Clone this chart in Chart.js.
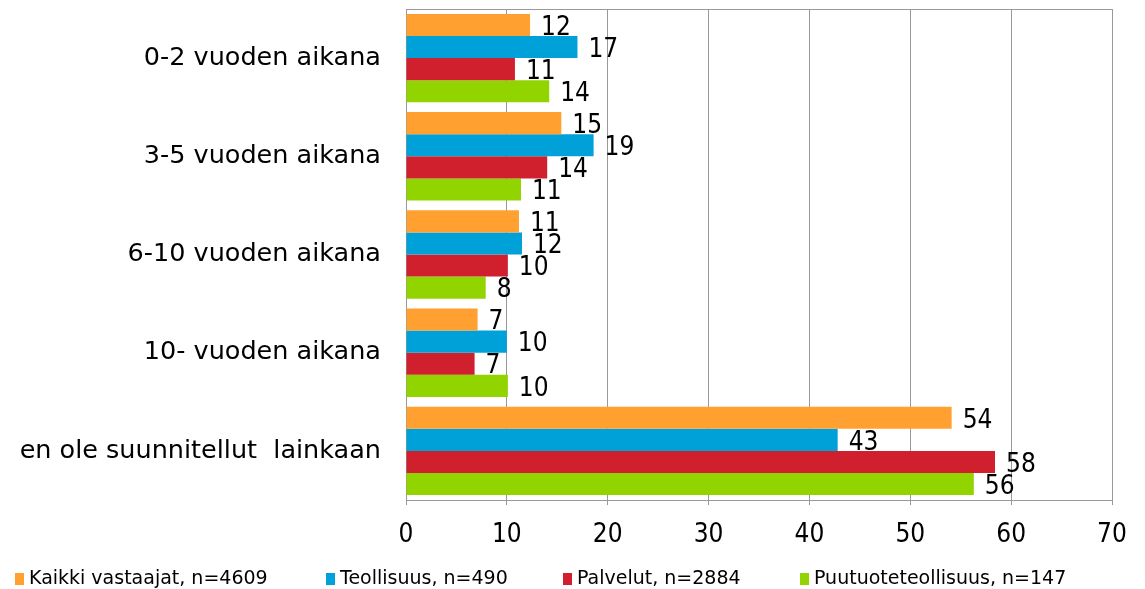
<!DOCTYPE html>
<html>
<head>
<meta charset="utf-8">
<script src="https://cdn.jsdelivr.net/npm/chart.js@4/dist/chart.umd.min.js"></script>
<style>
  html, body { margin: 0; padding: 0; background: #fff; }
  #wrap { position: relative; width: 1145px; height: 589px; }
  #legend { position: absolute; left: 0; top: 566px; width: 1145px; height: 22px;
    font-family: "DejaVu Sans", sans-serif; font-size: 19px; color: #000; }
  .item { position: absolute; top: 0; white-space: nowrap; line-height: 22px; }
  .box { display: inline-block; width: 9px; height: 12px; margin-right: 5px; vertical-align: -1px; }
</style>
</head>
<body>
<div id="wrap">
  <canvas id="chart" width="1145" height="589"></canvas>
  <div id="legend"></div>
</div>
<script>
// categories and series
const categories = ['0-2 vuoden aikana', '3-5 vuoden aikana', '6-10 vuoden aikana', '10- vuoden aikana', 'en ole suunnitellut  lainkaan'];
const kaikki = [12.3, 15.4, 11.2, 7.1, 54.1];
const teollisuus = [17.0, 18.6, 11.5, 10.0, 42.8];
const palvelut = [10.8, 14.0, 10.1, 6.8, 58.4];
const puutuote = [14.2, 11.4, 7.9, 10.1, 56.3];
const seriesNames = ['Kaikki vastaajat, n=4609', 'Teollisuus, n=490', 'Palvelut, n=2884', 'Puutuoteteollisuus, n=147'];
const seriesColors = ['#FFA030', '#00A0D8', '#D0202E', '#92D400'];
const xTicks = [0, 10, 20, 30, 40, 50, 60, 70];

const font = '"DejaVu Sans", sans-serif';
const numFont = '"Liberation Sans Narrow", "DejaVu Sans Condensed", sans-serif';

// value labels at the end of each bar
const valueLabels = {
  id: 'valueLabels',
  afterDatasetsDraw(chart) {
    const ctx = chart.ctx;
    ctx.save();
    ctx.font = '26px ' + numFont;
    ctx.fillStyle = '#000';
    ctx.textBaseline = 'middle';
    ctx.textAlign = 'left';
    chart.data.datasets.forEach((ds, i) => {
      chart.getDatasetMeta(i).data.forEach((bar, j) => {
        ctx.fillText(String(Math.round(ds.data[j])), bar.x + 11, bar.y + 3);
      });
    });
    ctx.restore();
  }
};

// grey frame round the plot area
const frame = {
  id: 'frame',
  beforeDatasetsDraw(chart) {
    const a = chart.chartArea;
    const ctx = chart.ctx;
    ctx.save();
    ctx.strokeStyle = '#999';
    ctx.lineWidth = 1;
    ctx.strokeRect(Math.round(a.left) + 0.5, Math.round(a.top) + 0.5, Math.round(a.right - a.left), Math.round(a.bottom - a.top));
    ctx.restore();
  }
};

const datasets = [kaikki, teollisuus, palvelut, puutuote].map((d, i) => ({
  label: seriesNames[i],
  data: d,
  backgroundColor: seriesColors[i],
  barPercentage: 1,
  categoryPercentage: 0.9
}));

new Chart(document.getElementById('chart'), {
  type: 'bar',
  data: { labels: categories, datasets },
  options: {
    indexAxis: 'y',
    responsive: false,
    animation: false,
    layout: { padding: { left: 0, right: 33, top: 9, bottom: 0 } },
    plugins: { legend: { display: false }, tooltip: { enabled: false } },
    scales: {
      x: {
        min: 0, max: 70,
        afterBuildTicks: s => { s.ticks = xTicks.map(v => ({ value: v })); },
        afterFit: s => { s.height = 89; },
        grid: { color: '#999', tickLength: 5, drawTicks: true },
        border: { color: '#999' },
        ticks: { color: '#000', font: { family: numFont, size: 26 }, padding: 15 }
      },
      y: {
        afterFit: s => { s.width = 406; s.paddingTop = 0; s.paddingBottom = 0; },
        grid: { display: false },
        border: { color: '#999' },
        ticks: { color: '#000', font: { family: font, size: 25.5 }, padding: 17 }
      }
    }
  },
  plugins: [frame, valueLabels]
});

// legend
const legendX = [15, 326, 563, 800];
const legend = document.getElementById('legend');
seriesNames.forEach((name, i) => {
  const item = document.createElement('div');
  item.className = 'item';
  item.style.left = legendX[i] + 'px';
  item.innerHTML = '<span class="box" style="background:' + seriesColors[i] + '"></span>' + name;
  legend.appendChild(item);
});
</script>
</body>
</html>
